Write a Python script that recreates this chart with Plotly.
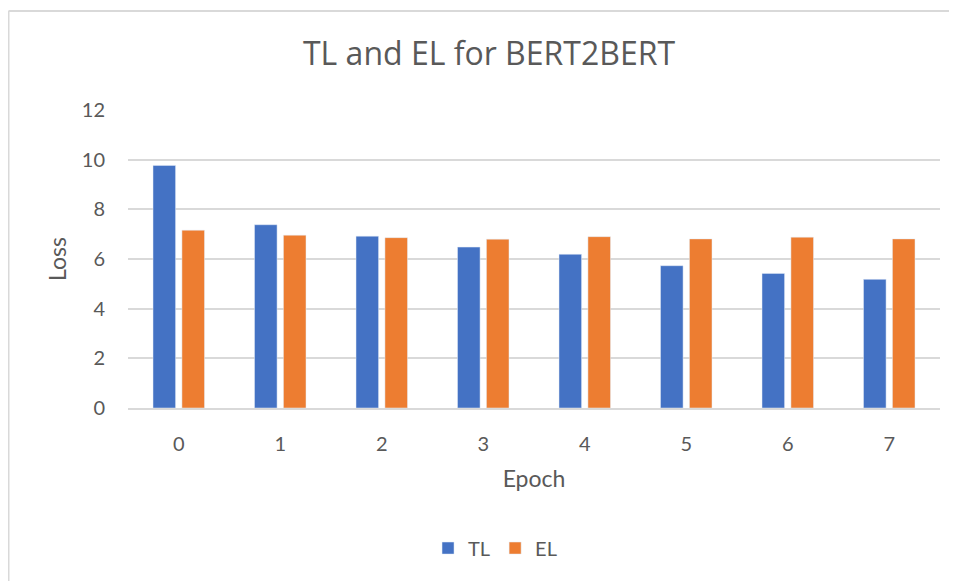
import plotly.graph_objects as go

epochs = ["0", "1", "2", "3", "4", "5", "6", "7"]
tl_values = [9.77, 7.38, 6.92, 6.48, 6.19, 5.73, 5.42, 5.18]
el_values = [7.16, 6.96, 6.86, 6.80, 6.90, 6.81, 6.88, 6.81]

font_family = "Lato, Open Sans, sans-serif"
grey = "#595959"

# page has an 8px body margin; figure size/margins compensate
W, H = 949, 573
L, R, T, B = 120, 17, 102, 173
plot_w = W - L - R
plot_h = H - T - B

fig = go.Figure()
fig.add_trace(go.Bar(x=epochs, y=tl_values, name="TL", marker_color="#4472C4"))
fig.add_trace(go.Bar(x=epochs, y=el_values, name="EL", marker_color="#ED7D31"))

bx = (0.5 - L) / plot_w
by = (plot_h + T - 3) / plot_h

fig.update_layout(
    width=W, height=H,
    margin=dict(l=L, r=R, t=T, b=B),
    paper_bgcolor="white", plot_bgcolor="white",
    barmode="group", bargap=0.43, bargroupgap=0.22,
    font=dict(family=font_family, color=grey, size=20),
    title=dict(text="TL and EL for BERT2BERT", x=481 / W, xanchor="center",
               y=1 - 46 / H, yref="container", yanchor="middle",
               font=dict(size=32, color=grey, family="Open Sans, sans-serif")),
    legend=dict(orientation="h", x=0.452, xanchor="center", y=-0.47, yanchor="middle",
                font=dict(size=20, color=grey), itemwidth=30),
    xaxis=dict(title=dict(text="Epoch", standoff=17, font=dict(size=23, color=grey)),
               showline=True, linecolor="#d9d9d9", linewidth=1.5,
               ticks="", ticklabelstandoff=17, tickfont=dict(size=20, color=grey)),
    yaxis=dict(title=dict(text="Loss", standoff=8, font=dict(size=23, color=grey)),
               range=[0, 12], dtick=2, showgrid=True, gridcolor="#d9d9d9", gridwidth=1.5,
               zeroline=False, ticks="", ticklabelstandoff=22,
               tickfont=dict(size=20, color=grey)),
    shapes=[
        dict(type="line", xref="paper", yref="paper", x0=bx, x1=1.1, y0=by, y1=by,
             line=dict(color="#d9d9d9", width=2)),
        dict(type="line", xref="paper", yref="paper", x0=bx, x1=bx, y0=by, y1=-0.7,
             line=dict(color="#d9d9d9", width=2)),
    ],
)

fig.write_html("out.html")
